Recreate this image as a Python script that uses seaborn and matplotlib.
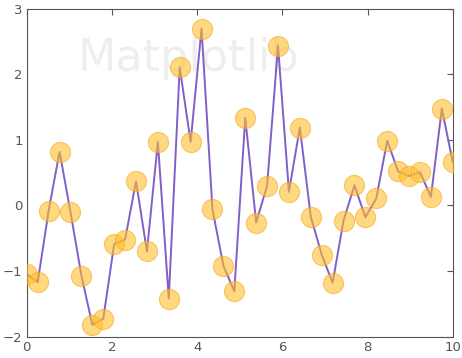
import numpy as np
import pandas as pd
import matplotlib
matplotlib.use('Agg')
import matplotlib.pyplot as plt
import seaborn as sns

# === DATA ===
x_vals = np.linspace(0, 10, 40)
y_vals = [-1.05, -1.17, -0.08, 0.82, -0.10, -1.07, -1.82, -1.73, -0.59, -0.52,
          0.37, -0.70, 0.97, -1.42, 2.11, 0.97, 2.70, -0.06, -0.92, -1.31,
          1.34, -0.26, 0.30, 2.44, 0.21, 1.19, -0.17, -0.75, -1.18, -0.23,
          0.31, -0.18, 0.11, 0.99, 0.52, 0.45, 0.51, 0.13, 1.48, 0.66]
x_ticks = [0, 2, 4, 6, 8, 10]
y_ticks = [-2, -1, 0, 1, 2, 3]

df = pd.DataFrame({'x': x_vals, 'y': y_vals})

# === PLOT ===
sns.set_style('white')
plt.rcParams['font.family'] = ['DejaVu Sans']

fig, ax = plt.subplots(figsize=(4.62, 3.58), dpi=100)
sns.lineplot(data=df, x='x', y='y', ax=ax, color='#8060c8', linewidth=1.4, zorder=2)
sns.scatterplot(data=df, x='x', y='y', ax=ax, s=210, color='#ffbf2a',
                edgecolor='#f5a623', linewidth=0.8, alpha=0.6, zorder=3)

ax.text(0.38, 0.85, 'Matplotlib', transform=ax.transAxes, fontsize=32,
        color='gray', alpha=0.13, ha='center', va='center', zorder=1)

ax.set_xlim(0, 10)
ax.set_ylim(-2, 3)
ax.set_xticks(x_ticks)
ax.set_yticks(y_ticks)
ax.set_xlabel('')
ax.set_ylabel('')
ax.tick_params(direction='in', top=True, right=True, length=4, width=0.8,
               labelsize=9.5, colors='#555555', pad=3)
for sp in ax.spines.values():
    sp.set_color('#555555')
    sp.set_linewidth(0.8)
    sp.set_linestyle((0, (2, 1)))

fig.subplots_adjust(left=0.058, right=0.98, top=0.975, bottom=0.06)
fig.savefig('out.png', dpi=100)
